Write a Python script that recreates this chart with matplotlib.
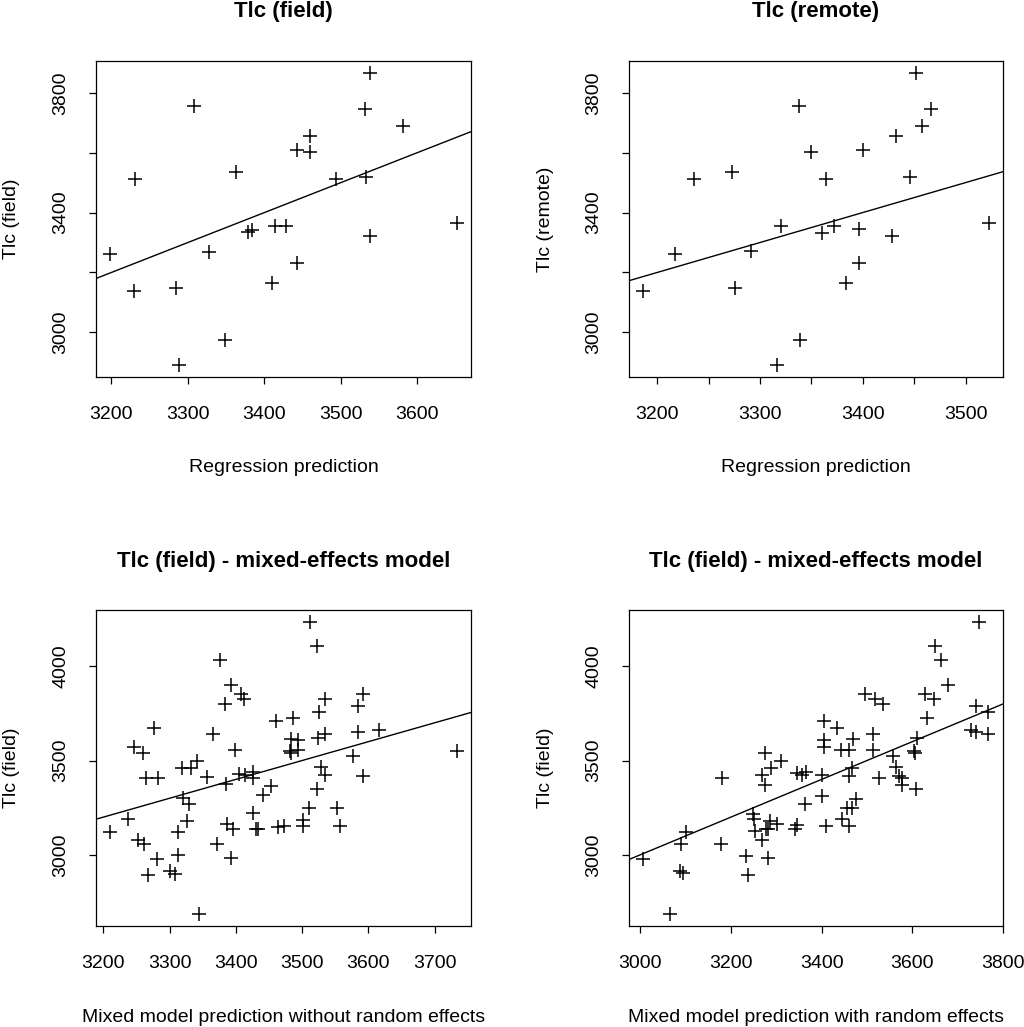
import matplotlib
matplotlib.use("Agg")
import matplotlib.pyplot as plt

plt.rcParams['font.family'] = ['Liberation Sans', 'DejaVu Sans']

# --- panel 1: Tlc (field) vs regression prediction
pred_field = [3538, 3308, 3531, 3581, 3460, 3442, 3460, 3363, 3231, 3494, 3533, 3652, 3379,
              3384, 3414, 3428, 3538, 3198, 3327, 3442, 3229, 3284, 3410, 3348, 3288]
tlc_field = [3867, 3756, 3746, 3688, 3657, 3608, 3602, 3534, 3512, 3512, 3518, 3366, 3336,
             3343, 3356, 3356, 3323, 3260, 3269, 3233, 3138, 3149, 3164, 2974, 2890]

# --- panel 2: Tlc (remote) vs regression prediction
pred_remote = [3452, 3338, 3466, 3458, 3432, 3400, 3350, 3273, 3236, 3364, 3446, 3523, 3360,
               3372, 3320, 3396, 3428, 3217, 3291, 3396, 3186, 3276, 3384, 3339, 3317]
tlc_remote = [3867, 3756, 3746, 3688, 3657, 3608, 3602, 3534, 3512, 3512, 3518, 3366, 3332,
              3354, 3354, 3344, 3323, 3260, 3270, 3233, 3138, 3148, 3164, 2974, 2890]

# --- panel 3: mixed model without random effects
pred_fixed = [3512, 3522, 3376, 3393, 3408, 3413, 3383, 3592, 3534, 3584, 3526, 3460, 3486,
              3277, 3366, 3584, 3616, 3534, 3524, 3484, 3494, 3247, 3260, 3399, 3482, 3484,
              3494, 3734, 3577, 3341, 3319, 3332, 3529, 3265, 3282, 3356, 3405, 3414, 3426,
              3426, 3534, 3592, 3385, 3453, 3522, 3441, 3321, 3329, 3426, 3510, 3553, 3238,
              3327, 3386, 3396, 3430, 3433, 3464, 3473, 3502, 3502, 3558, 3210, 3313, 3253,
              3261, 3371, 3313, 3281, 3393, 3268, 3300, 3308, 3345]
tlc_fixed = [4236, 4109, 4033, 3901, 3852, 3826, 3801, 3852, 3824, 3791, 3759, 3708, 3724,
             3673, 3641, 3650, 3664, 3641, 3620, 3616, 3609, 3574, 3541, 3558, 3553, 3542,
             3556, 3548, 3523, 3500, 3458, 3458, 3468, 3408, 3408, 3414, 3430, 3423, 3438,
             3405, 3421, 3416, 3377, 3366, 3347, 3315, 3301, 3271, 3222, 3248, 3248, 3188,
             3178, 3166, 3139, 3136, 3136, 3146, 3155, 3187, 3153, 3155, 3120, 3120, 3079,
             3056, 3056, 2997, 2977, 2986, 2893, 2914, 2900, 2685]

# --- panel 4: mixed model with random effects
pred_random = [3747, 3650, 3663, 3678, 3496, 3518, 3536, 3629, 3647, 3741, 3766, 3633, 3405,
               3433, 3730, 3741, 3768, 3514, 3470, 3405, 3611, 3405, 3443, 3461, 3514, 3603,
               3606, 3275, 3558, 3311, 3289, 3468, 3565, 3269, 3181, 3345, 3366, 3357, 3402,
               3461, 3527, 3571, 3577, 3275, 3578, 3608, 3402, 3476, 3363, 3455, 3467, 3248,
               3251, 3445, 3286, 3301, 3283, 3277, 3346, 3342, 3410, 3461, 3102, 3253, 3269,
               3090, 3178, 3233, 3283, 3006, 3088, 3094, 3237, 3065]
tlc_random = [4236, 4109, 4033, 3901, 3852, 3826, 3801, 3852, 3824, 3791, 3759, 3724, 3708,
              3673, 3664, 3650, 3641, 3641, 3616, 3611, 3620, 3574, 3558, 3558, 3558, 3548,
              3541, 3541, 3523, 3500, 3458, 3461, 3465, 3423, 3408, 3433, 3438, 3421, 3423,
              3416, 3408, 3416, 3408, 3373, 3368, 3347, 3313, 3296, 3271, 3248, 3248, 3218,
              3192, 3192, 3180, 3166, 3139, 3136, 3157, 3139, 3153, 3153, 3120, 3125, 3079,
              3055, 3055, 2995, 2986, 2979, 2914, 2905, 2893, 2685]

titles = ['Tlc (field)', 'Tlc (remote)',
          'Tlc (field) - mixed-effects model', 'Tlc (field) - mixed-effects model']
xlabels = ['Regression prediction', 'Regression prediction',
           'Mixed model prediction without random effects',
           'Mixed model prediction with random effects']
ylabels = ['Tlc (field)', 'Tlc (remote)', 'Tlc (field)', 'Tlc (field)']

xticks = [[3200, 3300, 3400, 3500, 3600],
          [3200, 3250, 3300, 3350, 3400, 3450, 3500],
          [3200, 3300, 3400, 3500, 3600, 3700],
          [3000, 3200, 3400, 3600, 3800]]
xticklabels = [['3200', '3300', '3400', '3500', '3600'],
               ['3200', '', '3300', '', '3400', '', '3500'],
               ['3200', '3300', '3400', '3500', '3600', '3700'],
               ['3000', '3200', '3400', '3600', '3800']]
yticks = [[3000, 3200, 3400, 3600, 3800],
          [3000, 3200, 3400, 3600, 3800],
          [3000, 3500, 4000],
          [3000, 3500, 4000]]
yticklabels = [['3000', '', '3400', '', '3800'],
               ['3000', '', '3400', '', '3800'],
               ['3000', '3500', '4000'],
               ['3000', '3500', '4000']]

xs = [pred_field, pred_remote, pred_fixed, pred_random]
ys = [tlc_field, tlc_remote, tlc_fixed, tlc_random]

W, H = 1024, 1027
fig = plt.figure(figsize=(W / 100, H / 100), dpi=100)

# axes boxes in pixels: left, top, right, bottom
boxes = [(96, 61, 471, 377), (629, 61, 1003, 377),
         (96, 610, 471, 926), (629, 610, 1003, 926)]


def r_range(v):
    # R style 4% padding
    lo, hi = min(v), max(v)
    d = (hi - lo) * 0.04
    return lo - d, hi + d


for i in range(4):
    l, t, r, b = boxes[i]
    h = b - t
    w = r - l
    ax = fig.add_axes([l / W, 1 - b / H, w / W, h / H])
    ax.plot(xs[i], ys[i], linestyle='none', marker='+', color='black',
            markersize=10, markeredgewidth=1.1)
    ax.set_xlim(r_range(xs[i]))
    ax.set_ylim(r_range(ys[i]))
    ax.axline((3000, 3000), slope=1, color='black', linewidth=1.0)

    ax.set_xticks(xticks[i])
    ax.set_xticklabels(xticklabels[i])
    ax.set_yticks(yticks[i])
    ax.set_yticklabels(yticklabels[i], rotation=90, va='center')
    ax.tick_params(direction='out', length=5, width=0.9, labelsize=14)
    ax.tick_params(axis='x', pad=16)
    ax.tick_params(axis='y', pad=14)
    for s in ax.spines.values():
        s.set_linewidth(0.9)

    ax.text(0.5, 1 + 49 / h, titles[i], transform=ax.transAxes, ha='center',
            va='center', fontsize=16, fontweight='bold')
    ax.set_xlabel(xlabels[i], fontsize=14)
    ax.xaxis.set_label_coords(0.5, -91 / h)
    ax.xaxis.label.set_va('center')
    ax.set_ylabel(ylabels[i], fontsize=14)
    ax.yaxis.set_label_coords(-84 / w, 0.5)
    ax.yaxis.label.set_va('center')

fig.savefig('out.png', dpi=100)
